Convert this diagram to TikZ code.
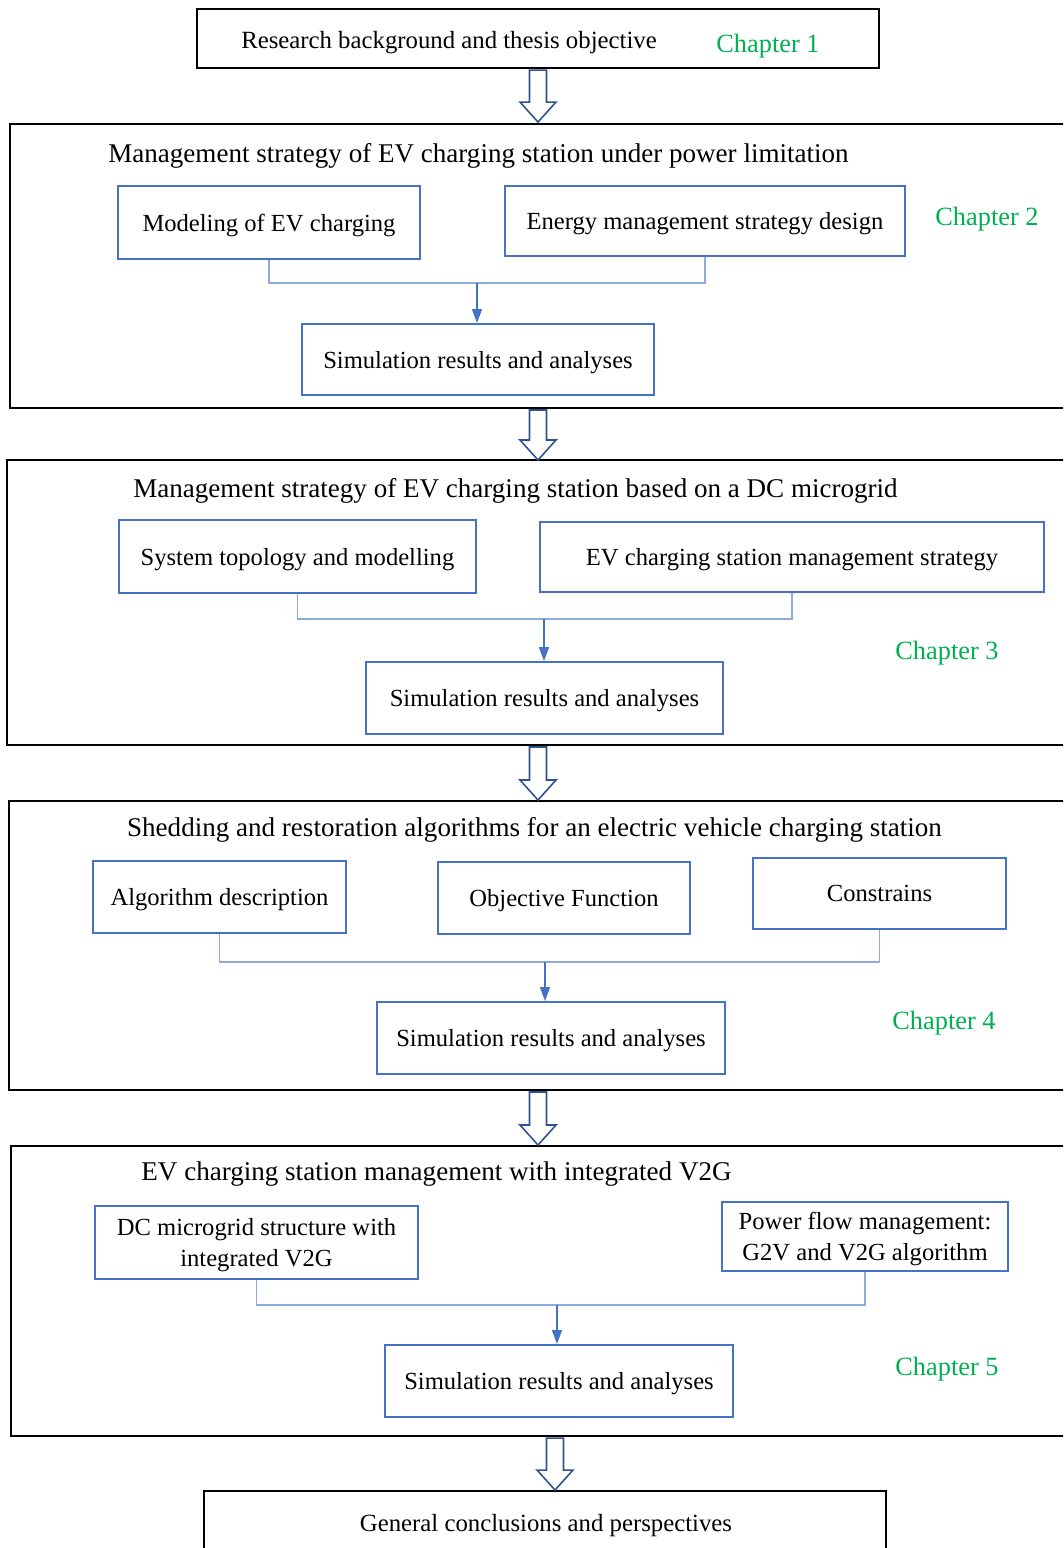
\documentclass[tikz,border=0pt]{standalone}
\usepackage{fontspec}
\setmainfont{Liberation Serif}
\usetikzlibrary{arrows.meta}
\definecolor{boxblue}{RGB}{68,114,196}
\definecolor{linkblue}{RGB}{143,170,220}
\definecolor{arrowblue}{RGB}{47,82,143}
\definecolor{chapgreen}{RGB}{0,176,80}

\begin{document}
\begin{tikzpicture}[x=0.02cm,y=-0.02cm,
  frame node/.style={draw=black,line width=1.2pt,inner sep=0pt},
  blue node/.style={draw=boxblue,line width=1.1pt,inner sep=0pt,align=center,text depth=0pt,font=\fontsize{14}{17.6}\selectfont},
  title node/.style={inner sep=0pt,text depth=0pt,font=\fontsize{15.4}{18}\selectfont},
  chapter node/.style={inner sep=0pt,text depth=0pt,text=chapgreen,font=\fontsize{15}{18}\selectfont},
  link/.style={draw=linkblue,line width=0.9pt},
  feed/.style={draw=boxblue,line width=0.8pt,-{Triangle[length=0.28cm,width=0.2cm]}},
  hollow arrow/.style={draw=arrowblue,fill=white,line width=0.9pt,line join=miter}]
  \clip (0,0) rectangle (1063,1548);

  % outer frames
  \node[frame node,minimum width=13.64cm,minimum height=1.18cm] (part1) at (538,38.5) {};
  \node[frame node,minimum width=21.4cm,minimum height=5.68cm] (part2) at (545,266) {};
  \node[frame node,minimum width=21.46cm,minimum height=5.7cm] (part3) at (543.5,602.5) {};
  \node[frame node,minimum width=21.42cm,minimum height=5.78cm] (part4) at (544.5,945.5) {};
  \node[frame node,minimum width=21.38cm,minimum height=5.8cm] (part5) at (545.5,1291) {};
  \node[frame node,minimum width=13.64cm,minimum height=1.58cm] (part6) at (545,1530.5) {};

  % chapter 1
  \node[title node,font=\fontsize{14.1}{17}\selectfont] (t1) at (449,40) {Research background and thesis objective};
  \node[chapter node] (c1) at (768,43) {Chapter 1};

  % chapter 2
  \node[title node] (t2) at (478.5,153) {Management strategy of EV charging station under power limitation};
  \node[blue node,minimum width=6.04cm,minimum height=1.46cm] (m21) at (269,222.5) {Modeling of EV charging};
  \node[blue node,minimum width=8cm,minimum height=1.4cm] (m22) at (705,221) {Energy management strategy design};
  \node[blue node,minimum width=7.04cm,minimum height=1.42cm] (s2) at (478,359.5) {Simulation results and analyses};
  \node[chapter node] (c2) at (987,216) {Chapter 2};
  \coordinate (j2) at (477,283);
  \draw[link] (m21.south) |- (j2) -| (m22.south);
  \draw[feed] (j2) -- (j2 |- s2.north);

  % chapter 3
  \node[title node] (t3) at (515.5,488) {Management strategy of EV charging station based on a DC microgrid};
  \node[blue node,minimum width=7.14cm,minimum height=1.46cm] (m31) at (297.5,556.5) {System topology and modelling};
  \node[blue node,minimum width=10.08cm,minimum height=1.4cm] (m32) at (792,557) {EV charging station management strategy};
  \node[blue node,minimum width=7.14cm,minimum height=1.44cm] (s3) at (544.5,698) {Simulation results and analyses};
  \node[chapter node] (c3) at (947,650) {Chapter 3};
  \coordinate (j3) at (544,619);
  \draw[link] (m31.south) |- (j3) -| (m32.south);
  \draw[feed] (j3) -- (j3 |- s3.north);

  % chapter 4
  \node[title node] (t4) at (534.5,827) {Shedding and restoration algorithms for an electric vehicle charging station};
  \node[blue node,minimum width=5.06cm,minimum height=1.44cm] (m41) at (219.5,897) {Algorithm description};
  \node[blue node,minimum width=5.04cm,minimum height=1.44cm] (m42) at (564,898) {Objective Function};
  \node[blue node,minimum width=5.06cm,minimum height=1.42cm] (m43) at (879.5,893.5) {Constrains};
  \node[blue node,minimum width=6.96cm,minimum height=1.44cm] (s4) at (551,1038) {Simulation results and analyses};
  \node[chapter node] (c4) at (944,1020) {Chapter 4};
  \coordinate (j4) at (545,962);
  \draw[link] (m41.south) |- (j4) -| (m43.south);
  \draw[feed] (j4) -- (j4 |- s4.north);

  % chapter 5
  \node[title node] (t5) at (436.5,1171) {EV charging station management with integrated V2G};
  \node[blue node,minimum width=6.46cm,minimum height=1.46cm] (m51) at (256.5,1242.5) {DC microgrid structure with\\integrated V2G};
  \node[blue node,minimum width=5.72cm,minimum height=1.38cm] (m52) at (865,1236.5) {Power flow management:\\G2V and V2G algorithm};
  \node[blue node,minimum width=6.96cm,minimum height=1.44cm] (s5) at (559,1381) {Simulation results and analyses};
  \node[chapter node] (c5) at (947,1366) {Chapter 5};
  \coordinate (j5) at (557,1305);
  \draw[link] (m51.south) |- (j5) -| (m52.south);
  \draw[feed] (j5) -- (j5 |- s5.north);

  % conclusion
  \node[title node,font=\fontsize{14.1}{17}\selectfont] (t6) at (546,1523) {General conclusions and perspectives};

  % hollow arrows between parts
  \draw[hollow arrow] (part1.south) ++(-8.5,1) -- ++(0,32) -- ++(-9.5,0) -- ++(18,20) -- ++(18,-20) -- ++(-9.5,0) -- ++(0,-32) -- cycle;
  \draw[hollow arrow] (part1.south |- part2.south) ++(-8.5,1) -- ++(0,30) -- ++(-9.5,0) -- ++(18,20) -- ++(18,-20) -- ++(-9.5,0) -- ++(0,-30) -- cycle;
  \draw[hollow arrow] (part1.south |- part3.south) ++(-8.5,1) -- ++(0,33) -- ++(-9.5,0) -- ++(18,20) -- ++(18,-20) -- ++(-9.5,0) -- ++(0,-33) -- cycle;
  \draw[hollow arrow] (part1.south |- part4.south) ++(-8.5,1) -- ++(0,33) -- ++(-9.5,0) -- ++(18,20) -- ++(18,-20) -- ++(-9.5,0) -- ++(0,-33) -- cycle;
  \draw[hollow arrow] (s5.south |- part5.south) ++(-12.5,1) -- ++(0,32) -- ++(-9.5,0) -- ++(18,20) -- ++(18,-20) -- ++(-9.5,0) -- ++(0,-32) -- cycle;
\end{tikzpicture}
\end{document}
